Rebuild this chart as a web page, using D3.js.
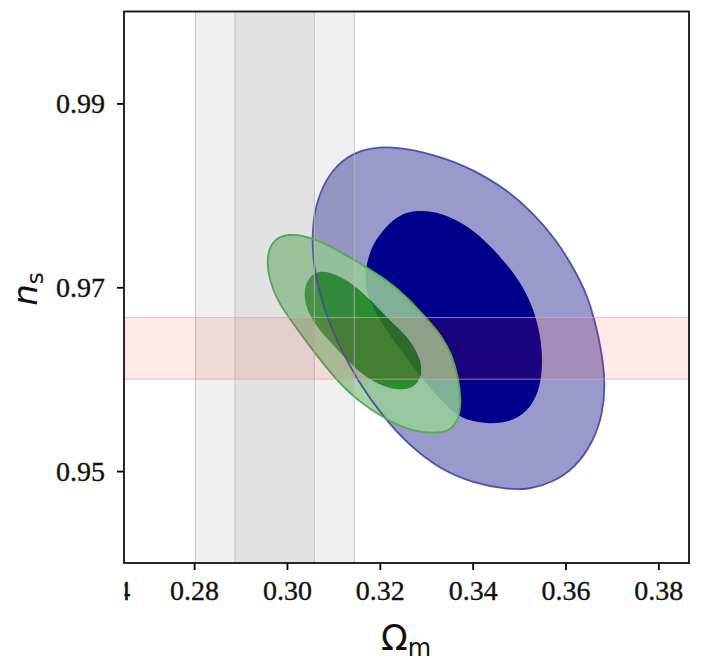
<!DOCTYPE html>
<html>
<head>
<meta charset="utf-8">
<script src="https://cdn.jsdelivr.net/npm/d3@7"></script>
<style>
  html, body { margin: 0; padding: 0; background: #fff; }
  svg { display: block; }
</style>
</head>
<body>
<svg id="chart" width="703" height="665"></svg>
<script>
// ---------------- data ----------------
const xTicks = [0.28, 0.30, 0.32, 0.34, 0.36, 0.38];
const yTicks = [0.95, 0.97, 0.99];
const xDomain = [0.2649, 0.3866];
const yDomain = [0.94, 1.0];

// Omega_m prior bands (1 sigma, 2 sigma)
const omegaBand1 = [0.2888, 0.3059];
const omegaBand2 = [0.2803, 0.3145];
// n_s band
const nsBand = [0.9600, 0.9667];

// Blue contours [Omega_m, n_s]
const blueOuter = [[0.3222,0.9855],[0.3330,0.9843],[0.3401,0.9828],[0.3474,0.9806],[0.3530,0.9781],[0.3581,0.9751],[0.3616,0.9722],[0.3646,0.9693],[0.3664,0.9662],[0.3678,0.9630],[0.3686,0.9595],[0.3680,0.9562],[0.3660,0.9532],[0.3620,0.9503],[0.3573,0.9488],[0.3523,0.9480],[0.3474,0.9480],[0.3401,0.9487],[0.3330,0.9502],[0.3265,0.9527],[0.3207,0.9559],[0.3151,0.9599],[0.3114,0.9635],[0.3088,0.9665],[0.3070,0.9694],[0.3058,0.9722],[0.3054,0.9751],[0.3058,0.9781],[0.3076,0.9810],[0.3106,0.9833],[0.3151,0.9849]];
const blueInner = [[0.3280,0.9784],[0.3330,0.9782],[0.3401,0.9764],[0.3459,0.9734],[0.3508,0.9703],[0.3538,0.9668],[0.3552,0.9629],[0.3547,0.9592],[0.3525,0.9568],[0.3487,0.9554],[0.3437,0.9551],[0.3388,0.9555],[0.3358,0.9564],[0.3330,0.9578],[0.3297,0.9597],[0.3265,0.9618],[0.3228,0.9643],[0.3196,0.9667],[0.3176,0.9688],[0.3168,0.9703],[0.3170,0.9724],[0.3184,0.9747],[0.3214,0.9767],[0.3243,0.9779]];

// Green contours
const greenOuter = [[0.3000,0.9759],[0.3050,0.9755],[0.3108,0.9741],[0.3157,0.9726],[0.3216,0.9708],[0.3265,0.9686],[0.3302,0.9665],[0.3332,0.9648],[0.3355,0.9627],[0.3369,0.9602],[0.3375,0.9578],[0.3371,0.9558],[0.3354,0.9545],[0.3330,0.9541],[0.3271,0.9543],[0.3216,0.9555],[0.3151,0.9577],[0.3106,0.9599],[0.3050,0.9635],[0.3007,0.9665],[0.2980,0.9685],[0.2962,0.9708],[0.2956,0.9730],[0.2966,0.9750]];
const greenInner = [[0.3086,0.9718],[0.3129,0.9709],[0.3179,0.9687],[0.3216,0.9666],[0.3252,0.9650],[0.3281,0.9630],[0.3293,0.9609],[0.3280,0.9592],[0.3243,0.9587],[0.3196,0.9594],[0.3151,0.9609],[0.3099,0.9637],[0.3054,0.9662],[0.3034,0.9688],[0.3042,0.9708],[0.3060,0.9716]];

// ---------------- layout ----------------
const plot = { left: 124, right: 689, top: 11.5, bottom: 563 };
const svg = d3.select("#chart");
const x = d3.scaleLinear().domain(xDomain).range([plot.left, plot.right]);
const y = d3.scaleLinear().domain(yDomain).range([plot.bottom, plot.top]);

svg.append("defs").append("clipPath").attr("id", "plotclip")
  .append("rect").attr("x", plot.left).attr("y", plot.top)
  .attr("width", plot.right - plot.left).attr("height", plot.bottom - plot.top);

const g = svg.append("g").attr("clip-path", "url(#plotclip)");

const line = d3.line().x(d => x(d[0])).y(d => y(d[1])).curve(d3.curveBasisClosed);

// Blue contours
g.append("path").attr("d", line(blueOuter)).attr("fill", "#9999cc");
g.append("path").attr("d", line(blueInner)).attr("fill", "#00008b");

// Green ring (between 1 and 2 sigma) and core
g.append("path").attr("d", line(greenOuter) + line(greenInner))
  .attr("fill-rule", "evenodd").attr("fill", "#96cf96").attr("fill-opacity", 0.85);
g.append("path").attr("d", line(greenInner)).attr("fill", "#178a17").attr("fill-opacity", 0.85);

// Outlines
g.append("path").attr("d", line(blueOuter)).attr("fill", "none")
  .attr("stroke", "#4343a6").attr("stroke-width", 1.8).attr("stroke-opacity", 0.9);
g.append("path").attr("d", line(greenOuter)).attr("fill", "none")
  .attr("stroke", "#55ac55").attr("stroke-width", 1.8);

// Gray vertical bands
[omegaBand2, omegaBand1].forEach(b => {
  g.append("rect")
    .attr("x", x(b[0])).attr("y", plot.top)
    .attr("width", x(b[1]) - x(b[0])).attr("height", plot.bottom - plot.top)
    .attr("fill", "#7a7a7a").attr("fill-opacity", 0.11);
  b.forEach(v => {
    g.append("line").attr("x1", x(v)).attr("x2", x(v))
      .attr("y1", plot.top).attr("y2", plot.bottom)
      .attr("stroke", "#b8b8b8").attr("stroke-width", 1).attr("stroke-opacity", 0.8);
  });
});

// Pink horizontal band
g.append("rect")
  .attr("x", plot.left).attr("y", y(nsBand[1]))
  .attr("width", plot.right - plot.left).attr("height", y(nsBand[0]) - y(nsBand[1]))
  .attr("fill", "#ff2020").attr("fill-opacity", 0.1);
nsBand.forEach(v => {
  g.append("line").attr("x1", plot.left).attr("x2", plot.right)
    .attr("y1", y(v)).attr("y2", y(v))
    .attr("stroke", "#f0a0a0").attr("stroke-width", 1).attr("stroke-opacity", 0.7);
});

// ---------------- axes ----------------
const tickFont = "'Liberation Serif', 'Times New Roman', serif";
const xAxis = d3.axisBottom(x).tickValues(xTicks).tickFormat(d3.format(".2f"))
  .tickSize(7).tickPadding(10).tickSizeOuter(0);
const yAxis = d3.axisLeft(y).tickValues(yTicks).tickFormat(d3.format(".2f"))
  .tickSize(7).tickPadding(12).tickSizeOuter(0);

const gx = svg.append("g").attr("transform", `translate(0,${plot.bottom})`).call(xAxis);
const gy = svg.append("g").attr("transform", `translate(${plot.left},0)`).call(yAxis);
[gx, gy].forEach(a => {
  a.select(".domain").remove();
  a.selectAll(".tick line").attr("stroke", "#000").attr("stroke-width", 1.8);
  a.selectAll(".tick text").attr("fill", "#111")
    .attr("stroke", "#111").attr("stroke-width", 0.35)
    .style("font-family", tickFont).style("font-size", "28px");
});

// clipped fragment of a cut-off tick label at the left edge
svg.append("clipPath").attr("id", "fragclip")
  .append("rect").attr("x", 124.5).attr("y", 575).attr("width", 6).attr("height", 30);
svg.append("text").attr("clip-path", "url(#fragclip)")
  .attr("x", 116.5).attr("y", 599.5)
  .attr("stroke", "#111").attr("stroke-width", 0.35)
  .style("font-family", tickFont).style("font-size", "28px").attr("fill", "#111")
  .text("4");

// Frame
svg.append("rect")
  .attr("x", plot.left).attr("y", plot.top)
  .attr("width", plot.right - plot.left).attr("height", plot.bottom - plot.top)
  .attr("fill", "none").attr("stroke", "#111").attr("stroke-width", 1.8);

// Axis titles
const sans = "'DejaVu Sans', sans-serif";
const xt = svg.append("text").attr("x", 406).attr("y", 650)
  .attr("text-anchor", "middle").style("font-family", sans).attr("fill", "#111");
xt.append("tspan").style("font-size", "35px").text("Ω");
xt.append("tspan").attr("dy", 6).style("font-size", "24px").text("m");

const yt = svg.append("text").attr("transform", "translate(37,289) rotate(-90)")
  .attr("text-anchor", "middle").style("font-family", sans).attr("fill", "#111");
yt.append("tspan").style("font-size", "34px").style("font-style", "italic").text("n");
yt.append("tspan").attr("dy", 6).style("font-size", "23px").text("s");
</script>
</body>
</html>
